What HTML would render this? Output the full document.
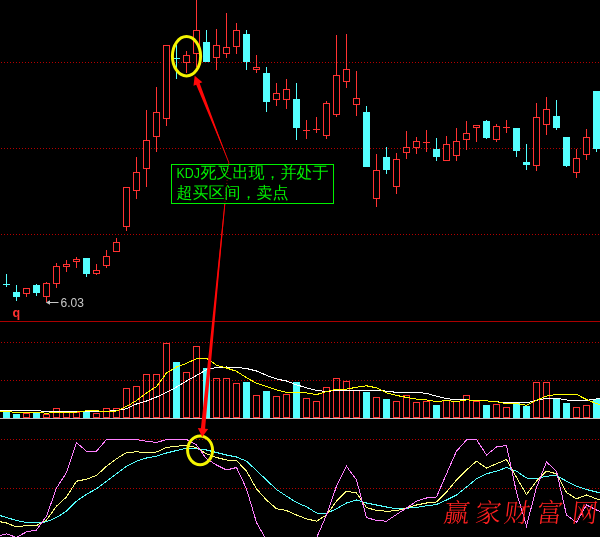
<!DOCTYPE html>
<html lang="zh-CN"><head><meta charset="utf-8"><title>KDJ死叉卖点</title>
<style>html,body{margin:0;padding:0;background:#000;width:600px;height:537px;overflow:hidden}</style>
</head><body>
<svg width="600" height="537" viewBox="0 0 600 537" style="position:absolute;left:0;top:0">
<rect width="600" height="537" fill="#000"/>
<g shape-rendering="crispEdges" stroke="#b40000" stroke-width="1" stroke-dasharray="1 2" fill="none">
<path d="M1 62.5H600"/>
<path d="M1 148.5H600"/>
<path d="M1 234.5H600"/>
<path d="M1 342.5H600"/>
<path d="M1 380.5H600"/>
<path d="M1 439.5H600"/>
<path d="M1 488.5H600"/>
</g>
<g shape-rendering="crispEdges">
<rect x="0" y="321" width="600" height="1" fill="#aa0000"/>
<rect x="6" y="274" width="1" height="13" fill="#54ffff"/>
<rect x="3" y="284" width="7" height="1" fill="#54ffff"/>
<rect x="16" y="285" width="1" height="16" fill="#54ffff"/>
<rect x="13" y="292" width="7" height="5" fill="#54ffff"/>
<rect x="26" y="288" width="1" height="9" fill="#ff3232"/>
<rect x="23.5" y="288.5" width="6" height="5" fill="#000" stroke="#ff3232" stroke-width="1"/>
<rect x="36" y="284" width="1" height="12" fill="#54ffff"/>
<rect x="33" y="285" width="7" height="8" fill="#54ffff"/>
<rect x="46" y="282" width="1" height="20" fill="#ff3232"/>
<rect x="43.5" y="283.5" width="6" height="13" fill="#000" stroke="#ff3232" stroke-width="1"/>
<rect x="56" y="263" width="1" height="25" fill="#ff3232"/>
<rect x="53.5" y="266.5" width="6" height="17" fill="#000" stroke="#ff3232" stroke-width="1"/>
<rect x="66" y="260" width="1" height="12" fill="#ff3232"/>
<rect x="63.5" y="264.5" width="6" height="2" fill="#000" stroke="#ff3232" stroke-width="1"/>
<rect x="76" y="257" width="1" height="11" fill="#ff3232"/>
<rect x="73.5" y="259.5" width="6" height="2" fill="#000" stroke="#ff3232" stroke-width="1"/>
<rect x="86" y="258" width="1" height="19" fill="#54ffff"/>
<rect x="83" y="258" width="7" height="16" fill="#54ffff"/>
<rect x="96" y="264" width="1" height="11" fill="#ff3232"/>
<rect x="93.5" y="270.5" width="6" height="3" fill="#000" stroke="#ff3232" stroke-width="1"/>
<rect x="106" y="250" width="1" height="18" fill="#ff3232"/>
<rect x="103.5" y="256.5" width="6" height="9" fill="#000" stroke="#ff3232" stroke-width="1"/>
<rect x="116" y="238" width="1" height="14" fill="#ff3232"/>
<rect x="113.5" y="242.5" width="6" height="9" fill="#000" stroke="#ff3232" stroke-width="1"/>
<rect x="126" y="187" width="1" height="44" fill="#ff3232"/>
<rect x="123.5" y="187.5" width="6" height="39" fill="#000" stroke="#ff3232" stroke-width="1"/>
<rect x="136" y="157" width="1" height="42" fill="#ff3232"/>
<rect x="133.5" y="172.5" width="6" height="18" fill="#000" stroke="#ff3232" stroke-width="1"/>
<rect x="146" y="110" width="1" height="77" fill="#ff3232"/>
<rect x="143.5" y="140.5" width="6" height="28" fill="#000" stroke="#ff3232" stroke-width="1"/>
<rect x="156" y="87" width="1" height="65" fill="#ff3232"/>
<rect x="153.5" y="112.5" width="6" height="24" fill="#000" stroke="#ff3232" stroke-width="1"/>
<rect x="166" y="45" width="1" height="81" fill="#ff3232"/>
<rect x="163.5" y="45.5" width="6" height="73" fill="#000" stroke="#ff3232" stroke-width="1"/>
<rect x="176" y="45" width="1" height="34" fill="#54ffff"/>
<rect x="173" y="58" width="7" height="1" fill="#54ffff"/>
<rect x="186" y="51" width="1" height="22" fill="#ff3232"/>
<rect x="183.5" y="55.5" width="6" height="7" fill="#000" stroke="#ff3232" stroke-width="1"/>
<rect x="196" y="0" width="1" height="67" fill="#ff3232"/>
<rect x="193.5" y="30.5" width="6" height="23" fill="#000" stroke="#ff3232" stroke-width="1"/>
<rect x="206" y="30" width="1" height="32" fill="#54ffff"/>
<rect x="203" y="42" width="7" height="20" fill="#54ffff"/>
<rect x="216" y="29" width="1" height="41" fill="#ff3232"/>
<rect x="213.5" y="45.5" width="6" height="12" fill="#000" stroke="#ff3232" stroke-width="1"/>
<rect x="226" y="13" width="1" height="45" fill="#ff3232"/>
<rect x="223.5" y="47.5" width="6" height="6" fill="#000" stroke="#ff3232" stroke-width="1"/>
<rect x="236" y="23" width="1" height="31" fill="#ff3232"/>
<rect x="233.5" y="30.5" width="6" height="16" fill="#000" stroke="#ff3232" stroke-width="1"/>
<rect x="246" y="30" width="1" height="40" fill="#54ffff"/>
<rect x="243" y="34" width="7" height="28" fill="#54ffff"/>
<rect x="256" y="55" width="1" height="18" fill="#ff3232"/>
<rect x="253.5" y="67.5" width="6" height="2" fill="#000" stroke="#ff3232" stroke-width="1"/>
<rect x="266" y="67" width="1" height="45" fill="#54ffff"/>
<rect x="263" y="73" width="7" height="29" fill="#54ffff"/>
<rect x="276" y="83" width="1" height="23" fill="#ff3232"/>
<rect x="273.5" y="93.5" width="6" height="6" fill="#000" stroke="#ff3232" stroke-width="1"/>
<rect x="286" y="79" width="1" height="30" fill="#ff3232"/>
<rect x="283.5" y="89.5" width="6" height="10" fill="#000" stroke="#ff3232" stroke-width="1"/>
<rect x="296" y="83" width="1" height="57" fill="#54ffff"/>
<rect x="293" y="99" width="7" height="29" fill="#54ffff"/>
<rect x="306" y="120" width="1" height="19" fill="#ff3232"/>
<rect x="303" y="130" width="7" height="1" fill="#ff3232"/>
<rect x="316" y="117" width="1" height="16" fill="#ff3232"/>
<rect x="313" y="129" width="7" height="1" fill="#ff3232"/>
<rect x="326" y="101" width="1" height="38" fill="#ff3232"/>
<rect x="323.5" y="103.5" width="6" height="32" fill="#000" stroke="#ff3232" stroke-width="1"/>
<rect x="336" y="35" width="1" height="82" fill="#ff3232"/>
<rect x="333.5" y="75.5" width="6" height="39" fill="#000" stroke="#ff3232" stroke-width="1"/>
<rect x="346" y="34" width="1" height="54" fill="#ff3232"/>
<rect x="343.5" y="69.5" width="6" height="12" fill="#000" stroke="#ff3232" stroke-width="1"/>
<rect x="356" y="71" width="1" height="45" fill="#ff3232"/>
<rect x="353.5" y="98.5" width="6" height="6" fill="#000" stroke="#ff3232" stroke-width="1"/>
<rect x="366" y="106" width="1" height="61" fill="#54ffff"/>
<rect x="363" y="112" width="7" height="55" fill="#54ffff"/>
<rect x="376" y="154" width="1" height="53" fill="#ff3232"/>
<rect x="373.5" y="170.5" width="6" height="28" fill="#000" stroke="#ff3232" stroke-width="1"/>
<rect x="386" y="147" width="1" height="27" fill="#54ffff"/>
<rect x="383" y="157" width="7" height="13" fill="#54ffff"/>
<rect x="396" y="153" width="1" height="41" fill="#ff3232"/>
<rect x="393.5" y="159.5" width="6" height="27" fill="#000" stroke="#ff3232" stroke-width="1"/>
<rect x="406" y="131" width="1" height="28" fill="#ff3232"/>
<rect x="403.5" y="147.5" width="6" height="5" fill="#000" stroke="#ff3232" stroke-width="1"/>
<rect x="416" y="137" width="1" height="17" fill="#ff3232"/>
<rect x="413.5" y="141.5" width="6" height="6" fill="#000" stroke="#ff3232" stroke-width="1"/>
<rect x="426" y="130" width="1" height="22" fill="#ff3232"/>
<rect x="423" y="142" width="7" height="1" fill="#ff3232"/>
<rect x="436" y="138" width="1" height="23" fill="#54ffff"/>
<rect x="433" y="149" width="7" height="8" fill="#54ffff"/>
<rect x="446" y="136" width="1" height="25" fill="#ff3232"/>
<rect x="443.5" y="144.5" width="6" height="16" fill="#000" stroke="#ff3232" stroke-width="1"/>
<rect x="456" y="128" width="1" height="33" fill="#ff3232"/>
<rect x="453.5" y="141.5" width="6" height="14" fill="#000" stroke="#ff3232" stroke-width="1"/>
<rect x="466" y="121" width="1" height="29" fill="#ff3232"/>
<rect x="463.5" y="133.5" width="6" height="6" fill="#000" stroke="#ff3232" stroke-width="1"/>
<rect x="476" y="125" width="1" height="17" fill="#ff3232"/>
<rect x="473.5" y="125.5" width="6" height="2" fill="#000" stroke="#ff3232" stroke-width="1"/>
<rect x="486" y="120" width="1" height="19" fill="#54ffff"/>
<rect x="483" y="121" width="7" height="17" fill="#54ffff"/>
<rect x="496" y="124" width="1" height="18" fill="#ff3232"/>
<rect x="493.5" y="126.5" width="6" height="13" fill="#000" stroke="#ff3232" stroke-width="1"/>
<rect x="506" y="120" width="1" height="13" fill="#ff3232"/>
<rect x="503" y="127" width="7" height="1" fill="#ff3232"/>
<rect x="516" y="128" width="1" height="29" fill="#54ffff"/>
<rect x="513" y="128" width="7" height="23" fill="#54ffff"/>
<rect x="526" y="144" width="1" height="26" fill="#54ffff"/>
<rect x="523" y="162" width="7" height="3" fill="#54ffff"/>
<rect x="536" y="103" width="1" height="68" fill="#ff3232"/>
<rect x="533.5" y="117.5" width="6" height="48" fill="#000" stroke="#ff3232" stroke-width="1"/>
<rect x="546" y="97" width="1" height="38" fill="#ff3232"/>
<rect x="543.5" y="109.5" width="6" height="15" fill="#000" stroke="#ff3232" stroke-width="1"/>
<rect x="556" y="100" width="1" height="30" fill="#54ffff"/>
<rect x="553" y="116" width="7" height="12" fill="#54ffff"/>
<rect x="566" y="137" width="1" height="30" fill="#54ffff"/>
<rect x="563" y="137" width="7" height="29" fill="#54ffff"/>
<rect x="576" y="149" width="1" height="29" fill="#ff3232"/>
<rect x="573.5" y="158.5" width="6" height="14" fill="#000" stroke="#ff3232" stroke-width="1"/>
<rect x="586" y="129" width="1" height="31" fill="#ff3232"/>
<rect x="583.5" y="137.5" width="6" height="17" fill="#000" stroke="#ff3232" stroke-width="1"/>
<rect x="596" y="91" width="1" height="61" fill="#54ffff"/>
<rect x="593" y="91" width="7" height="58" fill="#54ffff"/>
<rect x="3" y="412" width="7" height="6" fill="#54ffff"/>
<rect x="13" y="414" width="7" height="4" fill="#54ffff"/>
<rect x="23.5" y="413.5" width="6" height="4" fill="none" stroke="#ff3232" stroke-width="1"/>
<rect x="33" y="412" width="7" height="6" fill="#54ffff"/>
<rect x="43.5" y="414.5" width="6" height="3" fill="none" stroke="#ff3232" stroke-width="1"/>
<rect x="53.5" y="408.5" width="6" height="9" fill="none" stroke="#ff3232" stroke-width="1"/>
<rect x="63.5" y="411.5" width="6" height="6" fill="none" stroke="#ff3232" stroke-width="1"/>
<rect x="73.5" y="412.5" width="6" height="5" fill="none" stroke="#ff3232" stroke-width="1"/>
<rect x="83" y="412" width="7" height="6" fill="#54ffff"/>
<rect x="93.5" y="413.5" width="6" height="4" fill="none" stroke="#ff3232" stroke-width="1"/>
<rect x="103.5" y="408.5" width="6" height="9" fill="none" stroke="#ff3232" stroke-width="1"/>
<rect x="113.5" y="408.5" width="6" height="9" fill="none" stroke="#ff3232" stroke-width="1"/>
<rect x="123.5" y="388.5" width="6" height="29" fill="none" stroke="#ff3232" stroke-width="1"/>
<rect x="133.5" y="386.5" width="6" height="31" fill="none" stroke="#ff3232" stroke-width="1"/>
<rect x="143.5" y="374.5" width="6" height="43" fill="none" stroke="#ff3232" stroke-width="1"/>
<rect x="153.5" y="374.5" width="6" height="43" fill="none" stroke="#ff3232" stroke-width="1"/>
<rect x="163.5" y="343.5" width="6" height="74" fill="none" stroke="#ff3232" stroke-width="1"/>
<rect x="173" y="362" width="7" height="56" fill="#54ffff"/>
<rect x="183.5" y="372.5" width="6" height="45" fill="none" stroke="#ff3232" stroke-width="1"/>
<rect x="193.5" y="346.5" width="6" height="71" fill="none" stroke="#ff3232" stroke-width="1"/>
<rect x="203" y="368" width="7" height="50" fill="#54ffff"/>
<rect x="213.5" y="378.5" width="6" height="39" fill="none" stroke="#ff3232" stroke-width="1"/>
<rect x="223.5" y="378.5" width="6" height="39" fill="none" stroke="#ff3232" stroke-width="1"/>
<rect x="233.5" y="383.5" width="6" height="34" fill="none" stroke="#ff3232" stroke-width="1"/>
<rect x="243" y="382" width="7" height="36" fill="#54ffff"/>
<rect x="253.5" y="395.5" width="6" height="22" fill="none" stroke="#ff3232" stroke-width="1"/>
<rect x="263" y="391" width="7" height="27" fill="#54ffff"/>
<rect x="273.5" y="396.5" width="6" height="21" fill="none" stroke="#ff3232" stroke-width="1"/>
<rect x="283.5" y="394.5" width="6" height="23" fill="none" stroke="#ff3232" stroke-width="1"/>
<rect x="293" y="382" width="7" height="36" fill="#54ffff"/>
<rect x="303.5" y="398.5" width="6" height="19" fill="none" stroke="#ff3232" stroke-width="1"/>
<rect x="313.5" y="401.5" width="6" height="16" fill="none" stroke="#ff3232" stroke-width="1"/>
<rect x="323.5" y="387.5" width="6" height="30" fill="none" stroke="#ff3232" stroke-width="1"/>
<rect x="333.5" y="378.5" width="6" height="39" fill="none" stroke="#ff3232" stroke-width="1"/>
<rect x="343.5" y="381.5" width="6" height="36" fill="none" stroke="#ff3232" stroke-width="1"/>
<rect x="353.5" y="390.5" width="6" height="27" fill="none" stroke="#ff3232" stroke-width="1"/>
<rect x="363" y="392" width="7" height="26" fill="#54ffff"/>
<rect x="373.5" y="397.5" width="6" height="20" fill="none" stroke="#ff3232" stroke-width="1"/>
<rect x="383" y="399" width="7" height="19" fill="#54ffff"/>
<rect x="393.5" y="401.5" width="6" height="16" fill="none" stroke="#ff3232" stroke-width="1"/>
<rect x="403.5" y="395.5" width="6" height="22" fill="none" stroke="#ff3232" stroke-width="1"/>
<rect x="413.5" y="402.5" width="6" height="15" fill="none" stroke="#ff3232" stroke-width="1"/>
<rect x="423.5" y="401.5" width="6" height="16" fill="none" stroke="#ff3232" stroke-width="1"/>
<rect x="433" y="405" width="7" height="13" fill="#54ffff"/>
<rect x="443.5" y="400.5" width="6" height="17" fill="none" stroke="#ff3232" stroke-width="1"/>
<rect x="453.5" y="401.5" width="6" height="16" fill="none" stroke="#ff3232" stroke-width="1"/>
<rect x="463.5" y="395.5" width="6" height="22" fill="none" stroke="#ff3232" stroke-width="1"/>
<rect x="473.5" y="401.5" width="6" height="16" fill="none" stroke="#ff3232" stroke-width="1"/>
<rect x="483" y="405" width="7" height="13" fill="#54ffff"/>
<rect x="493.5" y="404.5" width="6" height="13" fill="none" stroke="#ff3232" stroke-width="1"/>
<rect x="503.5" y="407.5" width="6" height="10" fill="none" stroke="#ff3232" stroke-width="1"/>
<rect x="513" y="403" width="7" height="15" fill="#54ffff"/>
<rect x="523" y="406" width="7" height="12" fill="#54ffff"/>
<rect x="533.5" y="382.5" width="6" height="35" fill="none" stroke="#ff3232" stroke-width="1"/>
<rect x="543.5" y="382.5" width="6" height="35" fill="none" stroke="#ff3232" stroke-width="1"/>
<rect x="553" y="399" width="7" height="19" fill="#54ffff"/>
<rect x="563" y="403" width="7" height="15" fill="#54ffff"/>
<rect x="573.5" y="407.5" width="6" height="10" fill="none" stroke="#ff3232" stroke-width="1"/>
<rect x="583.5" y="405.5" width="6" height="12" fill="none" stroke="#ff3232" stroke-width="1"/>
<rect x="593" y="399" width="7" height="19" fill="#54ffff"/>
<rect x="0" y="418" width="600" height="1" fill="#c0c0c0"/>
</g>
<polyline points="-3.5,410.8 6.5,410.8 16.5,410.8 26.5,410.8 36.5,410.8 46.5,411.3 56.5,411.3 66.5,411.3 76.5,411.3 86.5,411.3 96.5,411.3 106.5,411.3 116.5,410.5 126.5,408.8 136.5,404.0 146.5,401.0 156.5,397.0 166.5,392.5 176.5,387.0 186.5,381.0 196.5,375.5 206.5,369.6 216.5,367.5 226.5,367.0 236.5,367.4 246.5,368.5 256.5,371.0 266.5,375.3 276.5,379.0 286.5,381.0 296.5,384.8 306.5,387.8 316.5,390.4 326.5,391.6 336.5,390.4 346.5,390.4 356.5,390.4 366.5,390.4 376.5,390.4 386.5,391.1 396.5,392.4 406.5,392.4 416.5,392.4 426.5,393.4 436.5,396.1 446.5,398.6 456.5,399.9 466.5,399.9 476.5,400.4 486.5,400.9 496.5,401.7 506.5,402.8 516.5,402.8 526.5,402.8 536.5,400.3 546.5,398.3 556.5,398.3 566.5,400.0 576.5,400.3 586.5,400.3 596.5,399.0 606.5,398.1" fill="none" stroke="#ffffff" stroke-width="1" shape-rendering="crispEdges" />
<polyline points="-3.5,411.7 6.5,411.7 16.5,412.3 26.5,412.3 36.5,412.3 46.5,413.2 56.5,412.5 66.5,412.1 76.5,412.1 86.5,410.8 96.5,410.8 106.5,411.5 116.5,411.0 126.5,406.5 136.5,400.5 146.5,393.0 156.5,386.5 166.5,373.0 176.5,367.0 186.5,363.3 196.5,358.7 206.5,358.2 216.5,365.2 226.5,368.0 236.5,371.3 246.5,377.7 256.5,383.3 266.5,386.6 276.5,389.8 286.5,392.4 296.5,392.9 306.5,392.9 316.5,394.6 326.5,391.6 336.5,389.1 346.5,389.1 356.5,387.3 366.5,385.8 376.5,387.8 386.5,392.9 396.5,395.4 406.5,397.4 416.5,399.1 426.5,399.9 436.5,401.7 446.5,400.4 456.5,401.7 466.5,399.9 476.5,400.4 486.5,400.9 496.5,401.7 506.5,403.6 516.5,403.6 526.5,405.3 536.5,400.3 546.5,396.1 556.5,394.4 566.5,394.4 576.5,394.4 586.5,399.5 596.5,403.6 606.5,406.5" fill="none" stroke="#ffff00" stroke-width="1" shape-rendering="crispEdges" />
<polyline points="-3.5,514.5 6.5,517.5 16.5,520.5 26.5,522.5 36.5,523.0 46.5,521.8 56.5,517.5 66.5,511.2 76.5,501.2 86.5,494.2 96.5,488.8 106.5,481.2 116.5,473.8 126.5,466.2 136.5,461.2 146.5,458.0 156.5,456.2 166.5,453.0 176.5,450.5 186.5,448.2 196.5,448.8 206.5,450.0 216.5,452.5 226.5,455.0 236.5,457.0 246.5,461.2 256.5,470.5 266.5,480.0 276.5,489.5 286.5,496.2 296.5,502.5 306.5,506.8 316.5,513.0 326.5,513.2 336.5,508.8 346.5,503.0 356.5,500.0 366.5,503.0 376.5,505.0 386.5,507.0 396.5,508.8 406.5,508.2 416.5,507.5 426.5,505.8 436.5,504.5 446.5,500.0 456.5,495.0 466.5,487.0 476.5,478.8 486.5,473.8 496.5,471.2 506.5,467.5 516.5,471.2 526.5,478.0 536.5,478.8 546.5,476.2 556.5,475.5 566.5,481.2 576.5,486.2 586.5,489.5 596.5,492.0 606.5,493.8" fill="none" stroke="#54ffff" stroke-width="1" shape-rendering="crispEdges" />
<polyline points="-3.5,521.0 6.5,523.0 16.5,527.0 26.5,525.5 36.5,525.5 46.5,520.0 56.5,506.2 66.5,497.0 76.5,481.2 86.5,479.2 96.5,475.5 106.5,466.2 116.5,458.8 126.5,452.5 136.5,451.8 146.5,452.5 156.5,452.0 166.5,447.5 176.5,446.2 186.5,445.5 196.5,447.5 206.5,453.8 216.5,457.5 226.5,460.0 236.5,460.5 246.5,471.2 256.5,488.8 266.5,500.0 276.5,508.8 286.5,510.5 296.5,515.0 306.5,518.8 316.5,521.2 326.5,515.0 336.5,501.2 346.5,491.2 356.5,493.0 366.5,507.5 376.5,510.5 386.5,511.2 396.5,510.8 406.5,508.0 416.5,505.0 426.5,503.0 436.5,502.0 446.5,492.0 456.5,480.0 466.5,470.0 476.5,461.2 486.5,468.0 496.5,463.8 506.5,459.5 516.5,477.5 526.5,494.5 536.5,481.2 546.5,471.2 556.5,473.8 566.5,492.5 576.5,498.8 586.5,495.0 596.5,498.8 606.5,501.4" fill="none" stroke="#ffff80" stroke-width="1" shape-rendering="crispEdges" />
<polyline points="-3.5,536.5 6.5,533.8 16.5,537.5 26.5,531.8 36.5,530.0 46.5,516.2 56.5,488.0 66.5,472.5 76.5,442.6 86.5,451.2 96.5,451.2 106.5,439.5 116.5,439.5 126.5,439.5 136.5,439.5 146.5,441.2 156.5,442.5 166.5,439.5 176.5,439.5 186.5,439.5 196.5,445.0 206.5,458.8 216.5,465.0 226.5,470.0 236.5,467.5 246.5,488.8 256.5,522.5 266.5,540.0 276.5,560.0 286.5,575.0 296.5,570.0 306.5,560.0 316.5,538.0 326.5,515.0 336.5,486.2 346.5,466.2 356.5,480.0 366.5,517.5 376.5,520.5 386.5,521.2 396.5,514.5 406.5,508.0 416.5,501.2 426.5,498.0 436.5,497.0 446.5,473.8 456.5,451.2 466.5,440.0 476.5,439.5 486.5,455.0 496.5,447.0 506.5,445.5 516.5,492.5 526.5,525.8 536.5,487.5 546.5,462.0 556.5,471.2 566.5,515.0 576.5,522.5 586.5,505.0 596.5,510.0 606.5,513.5" fill="none" stroke="#ff80ff" stroke-width="1" shape-rendering="crispEdges" />
<ellipse cx="186.5" cy="56.3" rx="14.1" ry="19.7" fill="none" stroke="#f4f400" stroke-width="3"/>
<ellipse cx="200.1" cy="450.3" rx="12.5" ry="14.4" fill="none" stroke="#f4f400" stroke-width="3"/>
<polygon points="228.8,163.0 200.9,428.3 197.8,428.0 202.2,437.0 208.2,429.0 205.1,428.7" fill="#ff0808"/>
<line x1="228.8" y1="163.0" x2="203.0" y2="428.5" stroke="#ff0808" stroke-width="0.8"/>
<polygon points="229.0,163.0 199.7,83.3 202.4,82.2 194.7,75.8 193.5,85.7 196.2,84.7" fill="#ff0808"/>
<line x1="229.0" y1="163.0" x2="197.9" y2="84.0" stroke="#ff0808" stroke-width="0.8"/>
<rect x="171.5" y="164.5" width="162" height="39" fill="#000" stroke="#00f000" stroke-width="1" shape-rendering="crispEdges"/>
<line x1="228.6" y1="165" x2="224.9" y2="203" stroke="#900000" stroke-width="1" stroke-dasharray="1 2"/>
<g font-family="'Liberation Sans','WenQuanYi Zen Hei','Noto Sans CJK SC',sans-serif" font-size="16" fill="#00f000">
<text x="176.5" y="178.2"><tspan font-size="14.5" textLength="23.5" lengthAdjust="spacingAndGlyphs">KDJ</tspan><tspan x="200.5">死叉出现，并处于</tspan></text>
<text x="176.5" y="198.1">超买区间，卖点</text>
</g>
<g font-family="'Liberation Sans',sans-serif">
<text x="60.5" y="306.8" font-size="12" fill="#c8c8c8">6.03</text>
<text x="12.4" y="316.6" font-size="12.5" font-weight="bold" fill="#ff3232">q</text>
</g>
<path d="M47 302.5H58.5" stroke="#c8c8c8" stroke-width="1" fill="none"/><path d="M45.8 302.5L50 300.3V304.7Z" fill="#c8c8c8"/>
<g font-family="'Liberation Serif','Noto Serif CJK SC',serif" font-size="26" fill="#ff2020" font-weight="300">
<text x="457 488.6 517.3 550 585" y="522" text-anchor="middle" transform="translate(0 512) skewX(-7) translate(0 -512)">赢家财富网</text>
</g>
</svg>
</body></html>
